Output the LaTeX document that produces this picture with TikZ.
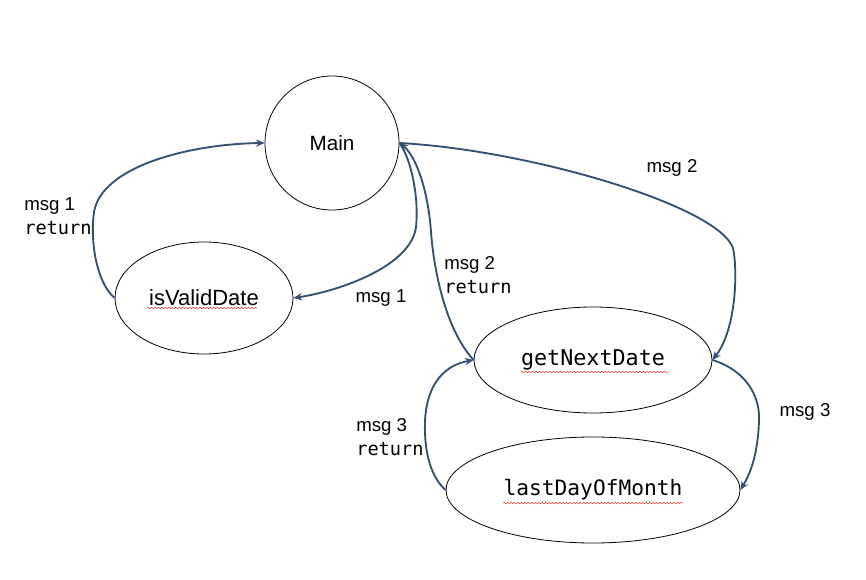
\documentclass[tikz,border=0pt]{standalone}
\usepackage{fontspec}
\setmainfont{Liberation Sans}
\setmonofont{DejaVu Sans Mono}
\usetikzlibrary{shapes.geometric,arrows.meta,decorations.pathmorphing}
\definecolor{conn}{RGB}{52,80,118}
\definecolor{spell}{RGB}{226,60,50}
\tikzset{
  shapebox/.style={draw=black,line width=0.6pt,inner sep=0pt,fill=white},
  circlebox/.style={shapebox,circle,minimum size=100.5pt,font=\fontsize{15.5}{18}\selectfont},
  ellbox/.style={shapebox,ellipse},
  connector/.style={draw=conn,line width=1.4pt,-{Stealth[length=6.5pt,width=5.5pt]}},
  msglabel/.style={inner sep=0pt,align=left,font=\fontsize{14}{18}\selectfont},
  spellmark/.style={draw=spell,line width=0.4pt,decorate,decoration={snake,amplitude=0.55pt,segment length=2.6pt}}
}
\begin{document}
\begin{tikzpicture}[x=0.75pt,y=-0.75pt]
\useasboundingbox (0,0) rectangle (866,580);
\fill[white] (0,0) rectangle (866,580);

% nodes
\node[circlebox] (main) at (332,143) {Main};
\node[ellbox,minimum width=133.5pt,minimum height=84pt,font=\fontsize{16.5}{18}\selectfont] (isv) at (204,298) {isValidDate};
\node[ellbox,minimum width=178.5pt,minimum height=79.5pt,font=\ttfamily\fontsize{16.3}{18}\selectfont] (gnd) at (593,360) {getNextDate};
\node[ellbox,minimum width=220.5pt,minimum height=79.5pt,font=\ttfamily\fontsize{15.9}{18}\selectfont] (ldm) at (593,490) {lastDayOfMonth};

% spell-check underlines
\draw[spellmark] (147,308) -- (257,308);
\draw[spellmark] (521,372) -- (668,372);
\draw[spellmark] (503,503) -- (683,503);

% connectors
\draw[connector] (isv.west) .. controls (96,282) and (90,240) .. (94,212)
   .. controls (102,166) and (190,144) .. (main.west);
\draw[connector] (main.east) .. controls (412,160) and (419,200) .. (416,227)
   .. controls (411,266) and (340,291) .. (isv.east);
\draw[connector] (gnd.west) .. controls (446,330) and (434,272) .. (431,232)
   .. controls (428,190) and (416,156) .. (main.east);
\draw[connector] (main.east) .. controls (530,150) and (718,206) .. (733,248)
   .. controls (738,272) and (736,330) .. (gnd.east);
\draw[connector] (gnd.east) .. controls (745,370) and (760,395) .. (759,420)
   .. controls (758,455) and (750,474) .. (ldm.east);
\draw[connector] (ldm.west) .. controls (432,478) and (424,455) .. (425,422)
   .. controls (426,390) and (440,366) .. (gnd.west);

% labels
\node[msglabel,anchor=west] (l1) at (24,216) {msg 1\\\texttt{return}};
\node[msglabel] (l2) at (381,298) {msg 1};
\node[msglabel,anchor=west] (l3) at (444,275) {msg 2\\\texttt{return}};
\node[msglabel] (l4) at (672,168) {msg 2};
\node[msglabel] (l5) at (805,412) {msg 3};
\node[msglabel,anchor=west] (l6) at (356,437) {msg 3\\\texttt{return}};
\end{tikzpicture}
\end{document}
